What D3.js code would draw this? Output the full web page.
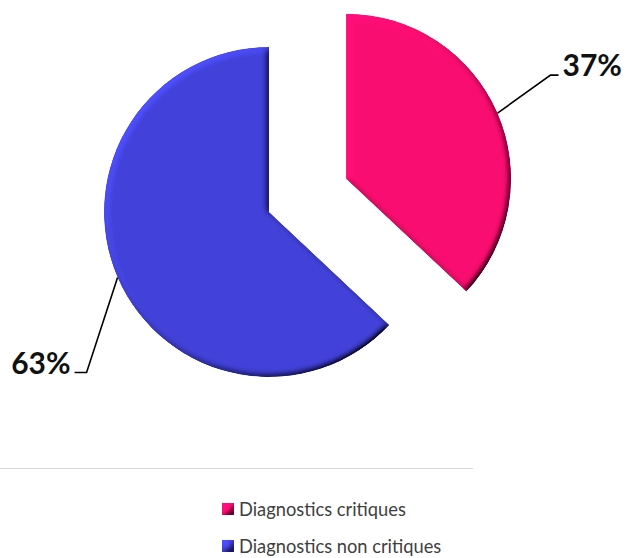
<!DOCTYPE html>
<html><head><meta charset="utf-8">
<script src="https://cdn.jsdelivr.net/npm/d3@7/dist/d3.min.js"></script>
<style>body{margin:0;background:#fff}svg{display:block}</style>
</head><body>
<svg id="chart" width="627" height="558"></svg>
<script>
const categories = ["Diagnostics critiques", "Diagnostics non critiques"];
const values = [37, 63];
const labels = ["37%", "63%"];
const colors = ["#FA0A70", "#4242DA"];

const svg = d3.select("#chart");
const cx = 269, cy = 212, R = 165, explode = 84;

const defs = svg.append("defs");
const f = defs.append("filter").attr("id","bevel").attr("x","-10%").attr("y","-10%").attr("width","120%").attr("height","120%");
f.append("feGaussianBlur").attr("in","SourceAlpha").attr("stdDeviation",3).attr("result","blur");
f.append("feDiffuseLighting").attr("in","blur").attr("surfaceScale",4).attr("diffuseConstant",1)
  .attr("lighting-color","#fff").attr("result","light")
  .append("feDistantLight").attr("azimuth",225).attr("elevation",45);
f.append("feComposite").attr("in","SourceGraphic").attr("in2","light").attr("operator","arithmetic")
  .attr("k1",1.414).attr("k2",0).attr("k3",0).attr("k4",0).attr("result","lit");
f.append("feComposite").attr("in","lit").attr("in2","SourceAlpha").attr("operator","in");

const pie = d3.pie().sort(null).value(d => d)(values);
const arc = d3.arc().innerRadius(0).outerRadius(R);

const g = svg.append("g").attr("transform", `translate(${cx},${cy})`);
pie.forEach((p, i) => {
  const mid = (p.startAngle + p.endAngle) / 2;
  const off = i === 0 ? explode : 0;
  const ox = off * Math.sin(mid), oy = -off * Math.cos(mid);
  const sg = g.append("g").attr("transform", `translate(${ox},${oy})`);
  sg.append("path").attr("d", arc(p)).attr("fill", colors[i]).attr("filter","url(#bevel)");

  // leader line
  const sx = ox + R * Math.sin(mid), sy = oy - R * Math.cos(mid);
  let pts;
  if (i === 0) {
    pts = [[sx, sy], [sx + 53, sy - 38], [sx + 61, sy - 38]];
  } else {
    pts = [[sx, sy], [sx - 31, sy + 95], [sx - 43, sy + 95]];
  }
  g.append("path").attr("d", d3.line()(pts)).attr("fill","none").attr("stroke","#000").attr("stroke-width",1.6);
  const last = pts[pts.length - 1];
  g.append("text").attr("x", i === 0 ? last[0] + 4 : last[0] - 4).attr("y", last[1] + 1)
    .attr("text-anchor", i === 0 ? "start" : "end")
    .attr("font-family","Lato, 'Open Sans', sans-serif").attr("font-weight","bold")
    .attr("font-size",30).attr("fill","#111").text(labels[i]);
});

// separator line
svg.append("line").attr("x1",0).attr("x2",473).attr("y1",468.5).attr("y2",468.5)
  .attr("stroke","#D9D9D9").attr("stroke-width",1);

// legend
const lg = svg.append("g").attr("transform","translate(222,503)");
categories.forEach((c, i) => {
  const row = lg.append("g").attr("transform", `translate(0,${i * 37})`);
  row.append("rect").attr("width",12).attr("height",12).attr("fill",colors[i]).attr("filter","url(#bevel)");
  row.append("text").attr("x",17).attr("y",13).attr("font-family","Lato, sans-serif")
    .attr("font-size",18.3).attr("fill","#404040").text(c);
});
</script>
</body></html>
